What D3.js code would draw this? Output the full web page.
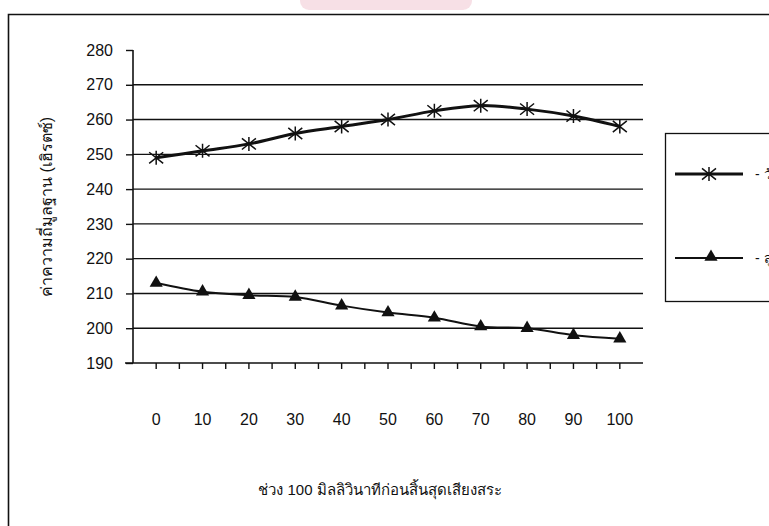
<!DOCTYPE html>
<html><head><meta charset="utf-8">
<script src="https://cdn.jsdelivr.net/npm/d3@7"></script>
<style>
html,body{margin:0;padding:0;background:#fff;overflow:hidden}
svg{display:block}
</style></head>
<body>
<svg id="c" width="769" height="526"></svg>
<script>
// ---- data ----
const categories = ["0","10","20","30","40","50","60","70","80","90","100"];
const seriesNames = ["- วัยรุ่นหญิง", "- สูงอายุหญิง"];
const seriesUpper = [249, 251, 253, 256, 258, 260, 262.5, 264, 263, 261, 258];
const seriesLower = [213, 210.5, 209.5, 209, 206.5, 204.5, 203, 200.5, 200, 198, 197];
const yTicks = [190, 200, 210, 220, 230, 240, 250, 260, 270, 280];
const yTitle = "ค่าความถี่มูลฐาน (เฮิรตซ์)";
const xTitle = "ช่วง 100 มิลลิวินาทีก่อนสิ้นสุดเสียงสระ";

(function(){
const svg = d3.select("#c");
const ink = "#111";

// faint stamp at top
svg.append("rect").attr("x",300).attr("y",-12).attr("width",172).attr("height",22)
  .attr("rx",9).attr("fill","#f4d3dc").attr("opacity",0.7);

// frame
svg.append("path").attr("d","M8.5,540 V14.5 H780").attr("fill","none")
  .attr("stroke",ink).attr("stroke-width",1.6);

const pl = 133, pr = 643, pt = 50, pb = 363;
const x = d3.scaleBand().domain(categories).range([pl, pr]);
const y = d3.scaleLinear().domain([190, 280]).range([pb, pt]);
const cx = d => x(d) + x.bandwidth()/2;

// gridlines
svg.append("g").selectAll("line").data(yTicks.filter(v => v > 190 && v < 280)).join("line")
  .attr("x1", pl).attr("x2", pr).attr("y1", d => y(d)).attr("y2", d => y(d))
  .attr("stroke", ink).attr("stroke-width", 1.4);

// y axis
const yAxis = svg.append("g").attr("transform",`translate(${pl},0)`)
  .call(d3.axisLeft(y).tickValues(yTicks).tickSize(7).tickPadding(13));
yAxis.select(".domain").attr("stroke",ink).attr("stroke-width",1.6).attr("d",`M0,${pt}V${pb}`);
yAxis.selectAll(".tick line").attr("stroke",ink).attr("stroke-width",1.4);
yAxis.selectAll("text").attr("font-family","Liberation Sans, Arial, sans-serif")
  .attr("font-size",16).attr("fill",ink);

// x axis (ticks at centers and boundaries)
const xAxisG = svg.append("g");
xAxisG.append("line").attr("x1",pl-8).attr("x2",pr).attr("y1",pb).attr("y2",pb)
  .attr("stroke",ink).attr("stroke-width",1.6);
const tickPos = [];
categories.forEach((c,i) => { tickPos.push(cx(c)); tickPos.push(x(c) + x.bandwidth()); });
xAxisG.selectAll("line.t").data(tickPos.filter(p => p < pr)).join("line").attr("class","t")
  .attr("x1", d => d).attr("x2", d => d).attr("y1", pb).attr("y2", pb + 6)
  .attr("stroke", ink).attr("stroke-width", 1.4);
xAxisG.selectAll("text").data(categories).join("text")
  .attr("x", d => cx(d)).attr("y", 425).attr("text-anchor","middle")
  .attr("font-family","Liberation Sans, Arial, sans-serif").attr("font-size",16)
  .attr("fill",ink).text(d => d);

// titles
svg.append("text").attr("transform",`translate(52,207) rotate(-90)`).attr("text-anchor","middle")
  .attr("font-size",16).attr("font-family","sans-serif").attr("fill",ink).text(yTitle);
svg.append("text").attr("x",380).attr("y",495).attr("text-anchor","middle")
  .attr("font-size",15).attr("font-family","sans-serif").attr("fill",ink).text(xTitle);

// lines
const line = d3.line().x((d,i) => cx(categories[i])).y(d => y(d)).curve(d3.curveCatmullRom.alpha(0.5));
svg.append("path").datum(seriesUpper).attr("d", line).attr("fill","none")
  .attr("stroke", ink).attr("stroke-width", 3);
svg.append("path").datum(seriesLower).attr("d", line).attr("fill","none")
  .attr("stroke", ink).attr("stroke-width", 2);

const tri = d3.symbol().type(d3.symbolTriangle).size(75);
function starMarker(g, px, py) {
  const s = 7;
  const p = `M${px},${py-s}V${py+s}M${px-s},${py-s*0.8}L${px+s},${py+s*0.8}M${px-s},${py+s*0.8}L${px+s},${py-s*0.8}`;
  g.append("path").attr("d", p).attr("stroke", ink).attr("stroke-width", 1.5).attr("fill","none");
}
const mk = svg.append("g");
seriesUpper.forEach((v,i) => starMarker(mk, cx(categories[i]), y(v)));
svg.append("g").selectAll("path").data(seriesLower).join("path")
  .attr("transform",(d,i) => `translate(${cx(categories[i])},${y(d)})`)
  .attr("d", tri).attr("fill", ink);

// legend
svg.append("rect").attr("x",665.5).attr("y",133.5).attr("width",130).attr("height",168)
  .attr("fill","none").attr("stroke",ink).attr("stroke-width",1.3);
const lg = svg.append("g");
lg.append("line").attr("x1",675).attr("x2",743).attr("y1",174).attr("y2",174)
  .attr("stroke",ink).attr("stroke-width",3);
starMarker(lg, 709, 174);
lg.append("line").attr("x1",675).attr("x2",743).attr("y1",258).attr("y2",258)
  .attr("stroke",ink).attr("stroke-width",2);
lg.append("path").attr("transform","translate(711,257)").attr("d",tri).attr("fill",ink);
lg.selectAll("text").data(seriesNames).join("text")
  .attr("x",755).attr("y",(d,i) => i ? 263 : 179)
  .attr("font-size",14).attr("font-family","sans-serif").attr("fill",ink).text(d => d);
})();
</script>
</body></html>
